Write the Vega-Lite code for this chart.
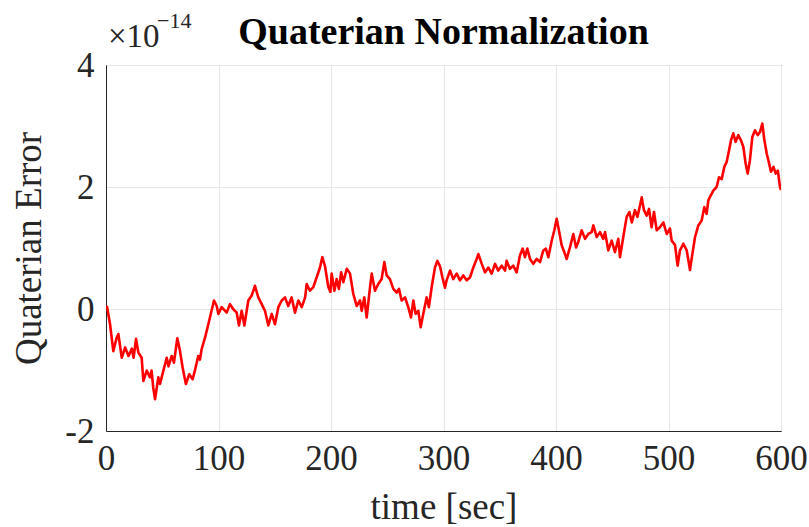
{
  "$schema": "https://vega.github.io/schema/vega-lite/v6.json",
  "width": 675,
  "height": 366,
  "autosize": {"type": "none"},
  "padding": {"left": 106, "top": 65, "right": 28, "bottom": 96},
  "background": "white",
  "config": {
    "font": "Liberation Serif",
    "view": {"stroke": "#262626", "strokeWidth": 1},
    "axis": {
      "labelFont": "Liberation Serif",
      "titleFont": "Liberation Serif",
      "labelColor": "#262626",
      "titleColor": "#262626",
      "domainColor": "#262626",
      "gridColor": "#e6e6e6",
      "gridWidth": 1,
      "ticks": false,
      "labelFontSize": 35,
      "titleFontSize": 37,
      "titleFontWeight": "normal"
    }
  },
  "title": {
    "text": "Quaterian Normalization",
    "font": "Liberation Serif",
    "fontSize": 38,
    "fontWeight": "bold",
    "color": "#000000",
    "anchor": "middle",
    "frame": "group",
    "baseline": "bottom",
    "offset": -80
  },
  "datasets": {
    "series": [
      {"t":0,"v":0.05},{"t":1,"v":0.03},{"t":3.6,"v":-0.25},{"t":6.5,"v":-0.69},{"t":9.5,"v":-0.47},{"t":11,"v":-0.41},{"t":14,"v":-0.8},{"t":17,"v":-0.63},{"t":20,"v":-0.77},{"t":23,"v":-0.65},{"t":24.5,"v":-0.8},{"t":26.7,"v":-0.49},{"t":28.7,"v":-0.71},{"t":31.7,"v":-0.8},{"t":33.2,"v":-1.18},{"t":36.2,"v":-1.01},{"t":39,"v":-1.12},{"t":40.5,"v":-1.01},{"t":42,"v":-1.29},{"t":43.6,"v":-1.48},{"t":46.5,"v":-1.12},{"t":48,"v":-1.23},{"t":51,"v":-1.01},{"t":54,"v":-0.8},{"t":55.5,"v":-0.94},{"t":58.4,"v":-0.77},{"t":60.4,"v":-0.88},{"t":63.4,"v":-0.48},{"t":65.8,"v":-0.69},{"t":68.1,"v":-0.96},{"t":71,"v":-1.23},{"t":74,"v":-1.07},{"t":77,"v":-1.15},{"t":79,"v":-1.01},{"t":82,"v":-0.77},{"t":83.5,"v":-0.83},{"t":85,"v":-0.66},{"t":88,"v":-0.47},{"t":89.5,"v":-0.36},{"t":92.4,"v":-0.14},{"t":96,"v":0.14},{"t":98.4,"v":0.05},{"t":99.9,"v":-0.08},{"t":102.8,"v":0.03},{"t":107.3,"v":-0.06},{"t":110.2,"v":0.08},{"t":113,"v":0},{"t":116.2,"v":-0.06},{"t":118.2,"v":-0.27},{"t":120.6,"v":-0.03},{"t":123,"v":-0.27},{"t":126.5,"v":0.14},{"t":129.5,"v":0.22},{"t":132.4,"v":0.38},{"t":135.4,"v":0.19},{"t":138.4,"v":0.08},{"t":141.3,"v":-0.03},{"t":144.3,"v":-0.27},{"t":147.3,"v":-0.08},{"t":150.2,"v":-0.25},{"t":153.2,"v":0.03},{"t":156.2,"v":0.14},{"t":159.1,"v":0.19},{"t":162,"v":0.05},{"t":165,"v":0.19},{"t":168,"v":-0.06},{"t":171,"v":0.14},{"t":174,"v":0.03},{"t":177,"v":0.19},{"t":178.4,"v":0.41},{"t":181.3,"v":0.3},{"t":184.3,"v":0.36},{"t":187.3,"v":0.52},{"t":190.2,"v":0.68},{"t":192.3,"v":0.85},{"t":194.7,"v":0.7},{"t":197.6,"v":0.36},{"t":199.5,"v":0.28},{"t":200.6,"v":0.58},{"t":203,"v":0.3},{"t":205,"v":0.49},{"t":207,"v":0.33},{"t":209,"v":0.6},{"t":211,"v":0.44},{"t":214,"v":0.66},{"t":216.9,"v":0.58},{"t":219.8,"v":0.25},{"t":222.8,"v":0.05},{"t":225.8,"v":0.14},{"t":227.3,"v":-0.03},{"t":229.6,"v":0.19},{"t":231.7,"v":-0.14},{"t":234.7,"v":0.36},{"t":236.2,"v":0.58},{"t":239.1,"v":0.3},{"t":242,"v":0.41},{"t":245,"v":0.49},{"t":247.4,"v":0.77},{"t":249.5,"v":0.55},{"t":252.4,"v":0.49},{"t":255.4,"v":0.33},{"t":258.4,"v":0.27},{"t":260.4,"v":0.33},{"t":262.8,"v":0.14},{"t":265.8,"v":0.19},{"t":268.7,"v":0.03},{"t":271.1,"v":-0.14},{"t":273.2,"v":0.14},{"t":275.2,"v":-0.08},{"t":277.6,"v":-0.03},{"t":279.7,"v":-0.3},{"t":282,"v":-0.08},{"t":285,"v":0.19},{"t":287,"v":0.03},{"t":289.5,"v":0.36},{"t":292.4,"v":0.68},{"t":294.5,"v":0.79},{"t":296.9,"v":0.7},{"t":299,"v":0.52},{"t":301.3,"v":0.35},{"t":302.8,"v":0.47},{"t":305.8,"v":0.63},{"t":308.7,"v":0.49},{"t":311.7,"v":0.58},{"t":314.7,"v":0.47},{"t":317.6,"v":0.55},{"t":320.6,"v":0.47},{"t":323.6,"v":0.52},{"t":326.5,"v":0.68},{"t":329.5,"v":0.82},{"t":331,"v":0.9},{"t":334,"v":0.74},{"t":336.9,"v":0.6},{"t":339.9,"v":0.68},{"t":342.8,"v":0.58},{"t":345.8,"v":0.74},{"t":348.7,"v":0.63},{"t":351.7,"v":0.71},{"t":354.7,"v":0.63},{"t":356.1,"v":0.79},{"t":359,"v":0.66},{"t":362,"v":0.71},{"t":365,"v":0.6},{"t":368,"v":0.88},{"t":370.4,"v":0.99},{"t":372.4,"v":0.85},{"t":374.5,"v":0.99},{"t":376.9,"v":0.82},{"t":379.8,"v":0.74},{"t":382.8,"v":0.82},{"t":385.8,"v":0.77},{"t":388.7,"v":0.96},{"t":391,"v":0.99},{"t":393.2,"v":0.85},{"t":396.2,"v":1.12},{"t":398.5,"v":1.29},{"t":400.6,"v":1.48},{"t":403,"v":1.25},{"t":405,"v":1.05},{"t":408,"v":0.9},{"t":409.5,"v":0.82},{"t":412.4,"v":1.01},{"t":415.4,"v":1.23},{"t":417.8,"v":1.01},{"t":419.8,"v":1.1},{"t":422.8,"v":1.29},{"t":425.8,"v":1.15},{"t":428.7,"v":1.23},{"t":431.7,"v":1.26},{"t":433.2,"v":1.37},{"t":436.2,"v":1.18},{"t":439.1,"v":1.26},{"t":442,"v":1.15},{"t":443.6,"v":1.26},{"t":446.5,"v":0.96},{"t":449.5,"v":1.12},{"t":452.4,"v":0.93},{"t":455.4,"v":1.15},{"t":456.9,"v":0.85},{"t":459.8,"v":1.18},{"t":462.8,"v":1.51},{"t":465.2,"v":1.59},{"t":467.4,"v":1.42},{"t":470.2,"v":1.62},{"t":472.4,"v":1.51},{"t":474.7,"v":1.7},{"t":476.2,"v":1.83},{"t":478.2,"v":1.62},{"t":480.6,"v":1.53},{"t":482.7,"v":1.64},{"t":485,"v":1.34},{"t":487.1,"v":1.59},{"t":489.5,"v":1.29},{"t":492.4,"v":1.34},{"t":495.4,"v":1.42},{"t":498.4,"v":1.23},{"t":501.3,"v":1.32},{"t":502.8,"v":1.12},{"t":505.8,"v":1.05},{"t":508.1,"v":0.71},{"t":510.2,"v":0.96},{"t":513.2,"v":1.07},{"t":516.2,"v":0.96},{"t":519.1,"v":0.64},{"t":521.2,"v":0.9},{"t":523.6,"v":1.18},{"t":526.5,"v":1.37},{"t":529.5,"v":1.45},{"t":531.8,"v":1.67},{"t":533.9,"v":1.56},{"t":535.4,"v":1.78},{"t":537.5,"v":1.86},{"t":539.8,"v":1.94},{"t":542.8,"v":2.0},{"t":544.9,"v":2.16},{"t":547.3,"v":2.13},{"t":549.6,"v":2.33},{"t":551.7,"v":2.41},{"t":553.8,"v":2.6},{"t":555.6,"v":2.77},{"t":557.6,"v":2.88},{"t":559.7,"v":2.74},{"t":562,"v":2.85},{"t":564.3,"v":2.77},{"t":566.5,"v":2.66},{"t":568.6,"v":2.38},{"t":570.4,"v":2.22},{"t":572.4,"v":2.44},{"t":574.5,"v":2.82},{"t":576.9,"v":2.93},{"t":579.3,"v":2.85},{"t":581.3,"v":2.9},{"t":583.4,"v":3.04},{"t":585.2,"v":2.77},{"t":587.3,"v":2.55},{"t":589.5,"v":2.38},{"t":591.1,"v":2.25},{"t":593.3,"v":2.33},{"t":595.3,"v":2.22},{"t":597.2,"v":2.27},{"t":599.1,"v":2.0},{"t":600,"v":1.95}
    ]
  },
  "layer": [
    {
      "data": {"name": "series"},
      "mark": {"type": "line", "color": "#ff0000", "strokeWidth": 2.6, "strokeJoin": "round", "clip": true},
      "encoding": {
        "x": {
          "field": "t", "type": "quantitative",
          "scale": {"domain": [0, 600], "nice": false},
          "axis": {"title": "time [sec]", "values": [0, 100, 200, 300, 400, 500, 600], "format": "d", "labelPadding": 10, "titlePadding": 13, "labelFlush": false}
        },
        "y": {
          "field": "v", "type": "quantitative",
          "scale": {"domain": [-2, 4], "nice": false, "zero": false},
          "axis": {"title": "Quaterian Error", "values": [-2, 0, 2, 4], "format": "d", "labelPadding": 12, "titlePadding": 16, "labelFlush": false, "labelExpr": "datum.value < 0 ? '-' + abs(datum.value) : '' + datum.value"}
        }
      }
    },
    {
      "data": {"values": [{"t": 0, "v": 4, "label": "×10"}]},
      "mark": {"type": "text", "align": "left", "baseline": "alphabetic", "dx": 2, "dy": -18, "fontSize": 33, "font": "Liberation Serif", "color": "#262626"},
      "encoding": {
        "x": {"field": "t", "type": "quantitative"},
        "y": {"field": "v", "type": "quantitative"},
        "text": {"field": "label"}
      }
    },
    {
      "data": {"values": [{"t": 0, "v": 4, "label": "−14"}]},
      "mark": {"type": "text", "align": "left", "baseline": "alphabetic", "dx": 51, "dy": -37, "fontSize": 22, "font": "Liberation Serif", "color": "#262626"},
      "encoding": {
        "x": {"field": "t", "type": "quantitative"},
        "y": {"field": "v", "type": "quantitative"},
        "text": {"field": "label"}
      }
    }
  ]
}
